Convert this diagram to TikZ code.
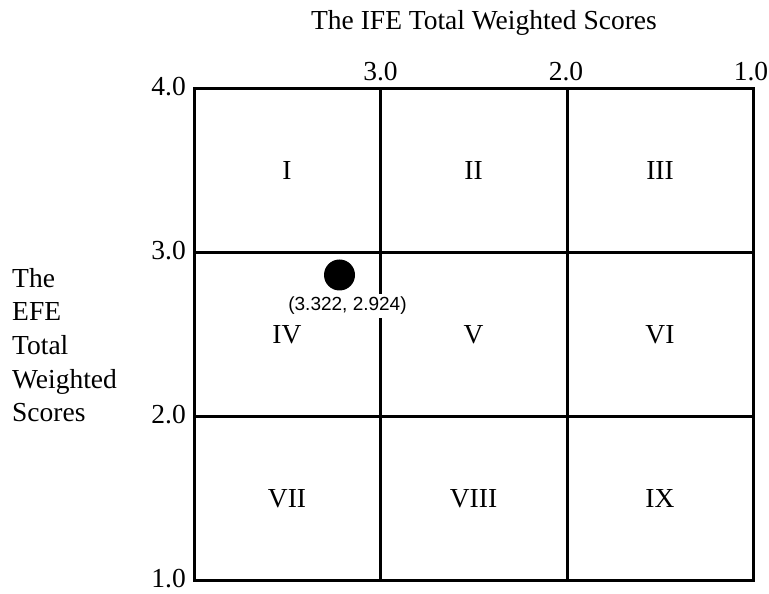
\documentclass[tikz,border=0pt]{standalone}
\usepackage{fontspec}
\setmainfont{Liberation Serif}
\newfontfamily\pointsans{Liberation Sans}
\usetikzlibrary{positioning}

\begin{document}
\begin{tikzpicture}[x=1pt,y=1pt]
  \tikzset{
    frame/.style={draw=black,line width=3pt},
    cell/.style={font=\fontsize{27.5}{32}\selectfont,inner sep=0pt},
    tick/.style={font=\fontsize{27.5}{32}\selectfont,inner sep=0pt},
    axislabel/.style={font=\fontsize{27.5}{33.7}\selectfont,inner sep=0pt},
    pointlabel/.style={font=\pointsans\fontsize{19}{22}\selectfont,fill=white,
      inner xsep=1pt,inner ysep=3pt},
  }
  \useasboundingbox (0,0) rectangle (769,594);
  \coordinate (sw) at (194,13); \coordinate (ne) at (753,505);
  \coordinate (x3) at (380.5,505); \coordinate (x2) at (567,505);
  \coordinate (y3) at (194,341); \coordinate (y2) at (194,177);

  \draw[frame] (sw) rectangle (ne);
  \draw[frame] (x3) -- (x3 |- sw) (x2) -- (x2 |- sw);
  \draw[frame] (y3) -- (y3 -| ne) (y2) -- (y2 -| ne);

  \node[cell] (c1) at (287,423) {I}; \node[cell] (c2) at (473.5,423) {II};
  \node[cell] (c3) at (660,423) {III};
  \node[cell] (c4) at (287,259) {IV}; \node[cell] (c5) at (473.5,259) {V};
  \node[cell] (c6) at (660,259) {VI};
  \node[cell] (c7) at (287,95) {VII}; \node[cell] (c8) at (473.5,95) {VIII};
  \node[cell] (c9) at (660,95) {IX};

  \node[tick,anchor=east] (t4) at (186,507) {4.0};
  \node[tick,anchor=east] (l3) at (186,343) {3.0};
  \node[tick,anchor=east] (l2) at (186,179) {2.0};
  \node[tick,anchor=east] (l1) at (186,15) {1.0};
  \node[tick,anchor=south] (u3) at (380.5,513) {3.0};
  \node[tick,anchor=south] (u2) at (566,513) {2.0};
  \node[tick,anchor=south] (u1) at (751,513) {1.0};

  \node[axislabel] (ife) at (484,571) {The IFE Total Weighted Scores};
  \node[axislabel,anchor=west,align=left] (efe) at (12,249)
    {The\\EFE\\Total\\Weighted\\Scores};

  \fill[black] (339.5,319) circle (15.5) coordinate (pt);
  \node[pointlabel] (ptlabel) at (347.5,288) {(3.322, 2.924)};
\end{tikzpicture}
\end{document}
